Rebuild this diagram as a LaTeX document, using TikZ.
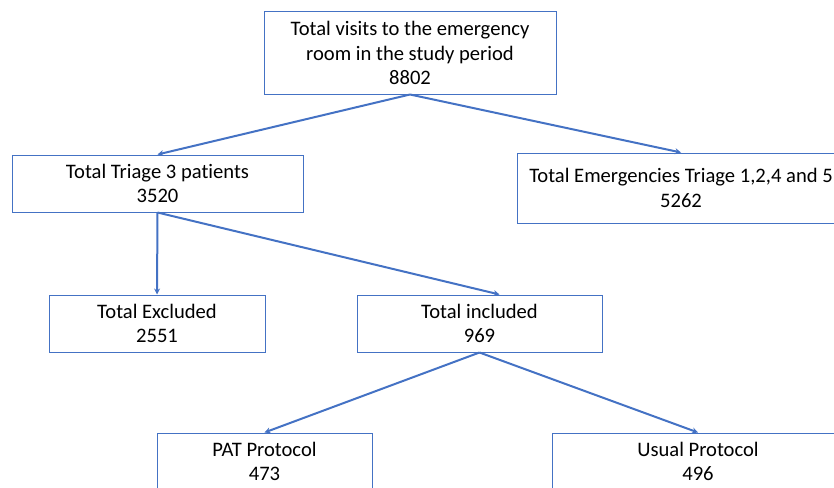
\documentclass[tikz,border=0pt]{standalone}
\usepackage{fontspec}
\setmainfont{Carlito}[Ligatures=NoCommon]
\usepackage{xcolor}
\usetikzlibrary{arrows.meta, positioning}
\definecolor{flowblue}{HTML}{4472C4}

\begin{document}
\begin{tikzpicture}[
    x=1pt, y=-1pt,
    box/.style={rectangle, draw=flowblue, line width=1pt, fill=white, align=center, inner sep=0pt, font=\fontsize{20.6}{24.5}\selectfont},
    arrow/.style={-{Stealth[length=6pt, width=6pt]}, draw=flowblue, line width=2pt}
]
\useasboundingbox (0,0) rectangle (834,487);
\clip (0,0) rectangle (834,487);

% Boxes
\node[box, minimum width=292pt, minimum height=82pt] (visits) at (410, 53) {Total visits to the emergency\\room in the study period\\8802};
\node[box, minimum width=291pt, minimum height=57pt] (triage) at (157.5, 183.5) {Total Triage 3 patients\\3520};
\node[box, minimum width=328pt, minimum height=70pt] (emerg) at (681, 188) {Total Emergencies Triage 1,2,4 and 5\\5262};
\node[box, minimum width=216pt, minimum height=57pt] (excl) at (157, 323.5) {Total Excluded\\2551};
\node[box, minimum width=245pt, minimum height=57pt] (incl) at (479.5, 323.5) {Total included\\969};
\node[box, minimum width=215pt, minimum height=57pt] (pat) at (264.5, 461.5) {PAT Protocol\\473};
\node[box, minimum width=292pt, minimum height=57pt] (usual) at (698, 461.5) {Usual Protocol\\496};

% Arrows
\draw[arrow] (visits.south) -- (triage.north);
\draw[arrow] (visits.south) -- (emerg.north);
\draw[arrow] (triage.south) -- (excl.north);
\draw[arrow] (triage.south) -- ([xshift=20pt]incl.north);
\draw[arrow] (incl.south) -- (pat.north);
\draw[arrow] (incl.south) -- (usual.north);

\end{tikzpicture}
\end{document}
